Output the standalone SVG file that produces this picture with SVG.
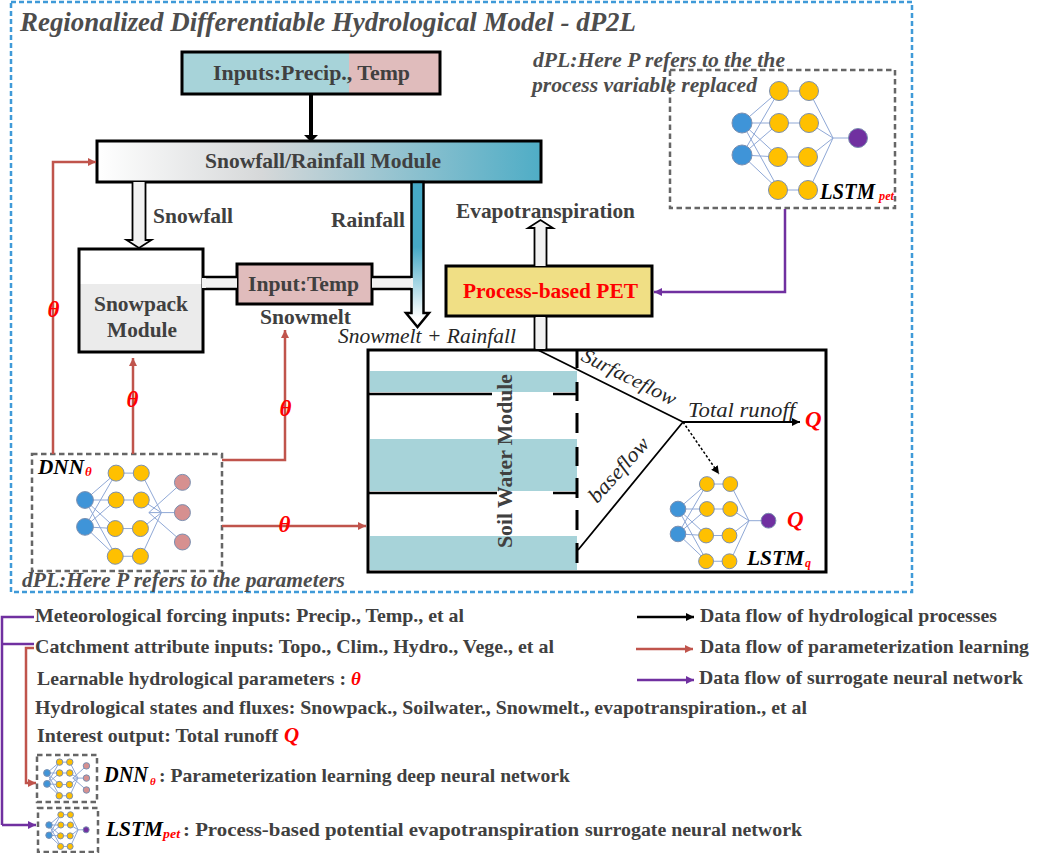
<svg xmlns="http://www.w3.org/2000/svg" xmlns:xlink="http://www.w3.org/1999/xlink" width="1037" height="853" viewBox="0 0 1037 853">
<style>
text{font-family:"Liberation Serif","Times New Roman",serif}
.b{font-weight:700;fill:#404040}
.bi{font-weight:700;font-style:italic;fill:#4d4d4d}
.i{font-style:italic;fill:#262626}
.k{font-weight:700;font-style:italic;fill:#000}
.r{font-weight:700;font-style:italic;fill:#f00}
.box{stroke:#000;stroke-width:3;fill:none}
.dash{fill:none;stroke:#666;stroke-width:2.500;stroke-dasharray:5.500 3.500}
.red{fill:none;stroke:#c0544c;stroke-width:2.500}
.pur{fill:none;stroke:#7030a0;stroke-width:2.500}
.blk{fill:none;stroke:#000;stroke-width:2.500}
.fat{fill:#f2f2f2;stroke:#000;stroke-width:1.800}
.e{stroke:#8fa8d6;stroke-width:1;vector-effect:non-scaling-stroke;fill:none}
.n{stroke:#7b8fb0;stroke-width:1;vector-effect:non-scaling-stroke}
.bl{fill:#3f94d8}.ye{fill:#ffc000}.pu{fill:#7030a0}.pk{fill:#d69090}
</style>
<defs>
<linearGradient id="gM" x1="0" y1="0" x2="1" y2="0"><stop offset="0" stop-color="#fff"/><stop offset=".37" stop-color="#d6d8d9"/><stop offset="1" stop-color="#4fadc6"/></linearGradient>
<linearGradient id="gR" gradientUnits="userSpaceOnUse" x1="0" y1="247" x2="0" y2="318"><stop offset="0" stop-color="#46a9c6"/><stop offset="1" stop-color="#fff"/></linearGradient>
<marker id="mR" markerUnits="userSpaceOnUse" markerWidth="9" markerHeight="9" refX="8" refY="4.500" orient="auto"><path d="M0 .5L8 4.500L0 8.500z" fill="#c0544c"/></marker>
<marker id="mP" markerUnits="userSpaceOnUse" markerWidth="9" markerHeight="9" refX="8" refY="4.500" orient="auto"><path d="M0 .5L8 4.500L0 8.500z" fill="#7030a0"/></marker>
<marker id="mK" markerUnits="userSpaceOnUse" markerWidth="9" markerHeight="9" refX="8" refY="4.500" orient="auto"><path d="M0 .5L8 4.500L0 8.500z" fill="#000"/></marker>
<g id="net">
<path class="e" d="M0 0L37 -32M0 0L37 0M0 0L37 34M0 0L37 67M0 32L37 -32M0 32L37 0M0 32L37 34M0 32L37 67M37 -32H67M37 0H67M37 34H67M37 67H67M67 -32L91 15M67 0L91 15M67 34L91 15M67 67L91 15"/>
<circle class="n bl" cx="0" cy="0" r="10"/><circle class="n bl" cx="0" cy="32" r="10"/>
<circle class="n ye" cx="37" cy="-32" r="9.500"/><circle class="n ye" cx="37" cy="0" r="9.500"/><circle class="n ye" cx="36" cy="34" r="9.500"/><circle class="n ye" cx="36" cy="67" r="9.500"/>
<circle class="n ye" cx="67" cy="-32" r="9.500"/><circle class="n ye" cx="67" cy="0" r="9.500"/><circle class="n ye" cx="66" cy="34" r="9.500"/><circle class="n ye" cx="66" cy="67" r="9.500"/>
</g>
<g id="outP"><path class="e" d="M91 15H116"/><circle class="n pu" cx="116" cy="15" r="9.500"/></g>
<g id="outD"><path class="e" d="M76 15L116 -21M76 15H116M76 15L116 50"/><circle class="n pk" cx="116" cy="-21" r="9.500"/><circle class="n pk" cx="116" cy="15" r="9.500"/><circle class="n pk" cx="116" cy="50" r="9.500"/></g>
</defs>
<rect width="1037" height="853" fill="#fff"/>
<rect id="frame" x="11" y="2" width="901" height="590" fill="none" stroke="#3f9ad8" stroke-width="2.500" stroke-dasharray="5 3"/>
<text id="title" class="bi" x="20" y="31" font-size="27.500" textLength="616" lengthAdjust="spacingAndGlyphs">Regionalized Differentiable Hydrological Model - dP2L</text>

<g id="inputs">
<rect x="182" y="52" width="167" height="42" fill="#a7d3d9"/><rect x="349" y="52" width="91" height="42" fill="#e0bcbc"/>
<rect class="box" x="182" y="52" width="258" height="42"/>
<text class="b" x="213" y="80" font-size="22" textLength="197" lengthAdjust="spacingAndGlyphs">Inputs:Precip., Temp</text>
</g>
<g id="snowfall-rainfall-module">
<rect x="97" y="141" width="444" height="41" fill="url(#gM)"/>
<rect class="box" x="97" y="141" width="444" height="41"/>
<text class="b" x="205" y="168" font-size="22" textLength="236" lengthAdjust="spacingAndGlyphs">Snowfall/Rainfall Module</text>
</g>
<g id="snowpack-module">
<rect x="79" y="284" width="124" height="68" fill="#ebebeb"/>
<rect class="box" x="79" y="249" width="124" height="103"/>
<text class="b" x="94" y="311" font-size="22" textLength="94" lengthAdjust="spacingAndGlyphs">Snowpack</text>
<text class="b" x="107" y="337" font-size="22" textLength="70" lengthAdjust="spacingAndGlyphs">Module</text>
</g>
<g id="input-temp">
<rect x="237" y="264" width="135" height="40" fill="#e0bcbc"/>
<rect class="box" x="237" y="264" width="135" height="40"/>
<text class="b" x="248" y="291" font-size="22" textLength="111" lengthAdjust="spacingAndGlyphs">Input:Temp</text>
</g>
<g id="process-based-pet">
<rect x="446" y="266" width="206" height="50" fill="#f0df85"/>
<rect class="box" x="446" y="266" width="206" height="50"/>
<text x="463" y="298" font-size="22" font-weight="700" fill="#f00" textLength="175" lengthAdjust="spacingAndGlyphs">Process-based PET</text>
</g>
<g id="soil-water-module">
<path fill="#a7d3d9" d="M370 371H577V392H370zM370 439H577V491H370zM370 536H577V570H370z"/>
<rect class="box" x="368" y="350" width="458" height="222"/>
<path fill="none" stroke="#000" stroke-width="2.500" d="M368 394H492M553 394H577M368 493H497M553 493H577"/>
<path fill="none" stroke="#000" stroke-width="3" d="M577 350V368M577 382V401M577 413V433M577 447V466M577 478V498M577 510V530M577 543V563"/>
<text class="b" transform="translate(512 548) rotate(-90)" font-size="22" textLength="174" lengthAdjust="spacingAndGlyphs">Soil Water Module</text>
<path fill="none" stroke="#000" stroke-width="1.800" d="M538 350L683 422M578 550L683 422"/>
<text class="i" transform="translate(580 360) rotate(26.400)" font-size="20" textLength="103" lengthAdjust="spacingAndGlyphs">Surfaceflow</text>
<text class="i" transform="translate(597 504) rotate(-48)" font-size="21" textLength="80" lengthAdjust="spacingAndGlyphs">baseflow</text>
<text class="i" x="688" y="417" font-size="21" textLength="107" lengthAdjust="spacingAndGlyphs">Total runoff</text>
<text class="r" x="805" y="427" font-size="23">Q</text>
</g>
<g id="dnn">
<rect class="dash" x="32" y="454" width="190" height="117"/>
<use xlink:href="#net" href="#net" transform="translate(85 500) scale(.84)"/>
<use xlink:href="#outD" href="#outD" transform="translate(85 500) scale(.84)"/>
<text class="k" x="38" y="474" font-size="21" textLength="46" lengthAdjust="spacingAndGlyphs">DNN</text><text class="r" x="85" y="476" font-size="13">θ</text>
</g>
<g id="lstm-pet">
<rect class="dash" x="670" y="70" width="225" height="138"/>
<use xlink:href="#net" href="#net" transform="translate(742 123)"/>
<use xlink:href="#outP" href="#outP" transform="translate(742 123)"/>
<text class="k" x="820" y="199" font-size="23" textLength="55" lengthAdjust="spacingAndGlyphs">LSTM</text><text class="r" x="879" y="200" font-size="13" textLength="15" lengthAdjust="spacingAndGlyphs">pet</text>
</g>
<g id="lstm-q">
<use xlink:href="#net" href="#net" transform="translate(678 509) scale(.78)"/>
<use xlink:href="#outP" href="#outP" transform="translate(678 509) scale(.78)"/>
<text class="k" x="747" y="565" font-size="21" textLength="57" lengthAdjust="spacingAndGlyphs">LSTM</text><text class="r" x="805" y="567" font-size="12">q</text>
<text class="r" x="787" y="527" font-size="23">Q</text>
</g>

<g id="connectors">
<path d="M311 94V140" stroke="#000" stroke-width="4" fill="none"/><path d="M304 135H318L311 142z" fill="#000"/>
<path class="fat" d="M132.500 182V240H126.500L139 248L151.500 240H145.500V182"/>
<rect x="203" y="278" width="34" height="10" fill="#f2f2f2"/>
<path d="M203 277H237M203 289H237" stroke="#000" stroke-width="2.500" fill="none"/>
<rect x="202" y="278" width="4" height="10" fill="#f2f2f2"/>
<path d="M411.500 182V313H406L417.500 327L429 313H423.500V182z" fill="url(#gR)" stroke="#000" stroke-width="2.500"/>
<rect x="372" y="278" width="41" height="10" fill="#f2f2f2"/>
<path d="M372 277H411M372 289H411" stroke="#000" stroke-width="2.500" fill="none"/>
<path class="fat" d="M534.500 266V228H528L540.500 220L553 228H546.500V266"/>
<rect x="535.500" y="317" width="10" height="32" fill="#f2f2f2"/>
<path class="fat" fill="none" d="M534.500 317V349M546.500 317V349"/>
<path class="red" marker-end="url(#mR)" d="M53 454V162H96"/>
<path class="red" marker-end="url(#mR)" d="M133 454V358"/>
<path class="red" marker-end="url(#mR)" d="M222 460H285V330"/>
<path class="red" marker-end="url(#mR)" d="M222 526H366"/>
<path class="pur" marker-end="url(#mP)" d="M785 209V292H654"/>
<path fill="none" stroke="#000" stroke-width="1.800" marker-end="url(#mK)" d="M683 422H800"/>
<path fill="none" stroke="#000" stroke-width="1.500" stroke-dasharray="2.500 2" marker-end="url(#mK)" d="M683 422L719 474"/>
<path class="pur" d="M34 617H2V825"/><path class="pur" d="M2 644H34"/>
<path class="pur" marker-end="url(#mP)" d="M2 825H36"/>
<path class="red" marker-end="url(#mR)" d="M34 648H26V783H36"/>
<path class="blk" marker-end="url(#mK)" d="M637 617H694"/>
<path class="red" marker-end="url(#mR)" d="M636 649H693"/>
<path class="pur" marker-end="url(#mP)" d="M637 680H694"/>
</g>

<g id="labels">
<text class="b" x="153" y="223" font-size="21" textLength="80" lengthAdjust="spacingAndGlyphs">Snowfall</text>
<text class="b" x="331" y="227" font-size="21" textLength="74" lengthAdjust="spacingAndGlyphs">Rainfall</text>
<text class="b" x="456" y="218" font-size="21" textLength="179" lengthAdjust="spacingAndGlyphs">Evapotranspiration</text>
<text class="b" x="260" y="324" font-size="21" textLength="91" lengthAdjust="spacingAndGlyphs">Snowmelt</text>
<text class="i" x="338" y="343" font-size="21" textLength="178" lengthAdjust="spacingAndGlyphs">Snowmelt + Rainfall</text>
<text class="bi" x="533" y="67" font-size="20.500" textLength="252" lengthAdjust="spacingAndGlyphs">dPL:Here P refers to the the</text>
<text class="bi" x="532" y="92" font-size="20.500" textLength="225" lengthAdjust="spacingAndGlyphs">process variable replaced</text>
<text class="bi" x="22" y="587" font-size="20.500" textLength="323" lengthAdjust="spacingAndGlyphs">dPL:Here P refers to the parameters</text>
<text class="r" x="47.500" y="317" font-size="23">θ</text>
<text class="r" x="126.500" y="407" font-size="23">θ</text>
<text class="r" x="279.500" y="416" font-size="23">θ</text>
<text class="r" x="278.500" y="532" font-size="23">θ</text>
</g>

<g id="legend">
<text class="b" x="35" y="622" font-size="19" textLength="429" lengthAdjust="spacingAndGlyphs">Meteorological forcing inputs: Precip., Temp., et al</text>
<text class="b" x="35" y="653" font-size="19" textLength="519" lengthAdjust="spacingAndGlyphs">Catchment attribute inputs: Topo., Clim., Hydro., Vege., et al</text>
<text class="b" x="37" y="685" font-size="19" textLength="309" lengthAdjust="spacingAndGlyphs">Learnable hydrological parameters :</text>
<text class="r" x="351" y="685" font-size="19">θ</text>
<text class="b" x="35" y="714" font-size="19" textLength="772" lengthAdjust="spacingAndGlyphs">Hydrological states and fluxes: Snowpack., Soilwater., Snowmelt., evapotranspiration., et al</text>
<text class="b" x="37" y="742" font-size="19" textLength="241" lengthAdjust="spacingAndGlyphs">Interest output: Total runoff</text>
<text class="r" x="284" y="742" font-size="21">Q</text>
<g id="legend-dnn">
<rect class="dash" x="37" y="755" width="60" height="47"/>
<use xlink:href="#net" href="#net" transform="translate(47 773) scale(.34)"/>
<use xlink:href="#outD" href="#outD" transform="translate(47 773) scale(.34)"/>
</g>
<text class="k" x="104" y="782" font-size="23" textLength="44" lengthAdjust="spacingAndGlyphs">DNN</text><text class="r" x="150" y="785" font-size="11">θ</text>
<text class="b" x="159" y="782" font-size="19" textLength="411" lengthAdjust="spacingAndGlyphs">: Parameterization learning deep neural network</text>
<g id="legend-lstm">
<rect class="dash" x="38" y="808" width="60" height="44"/>
<use xlink:href="#net" href="#net" transform="translate(49 825) scale(.32)"/>
<use xlink:href="#outP" href="#outP" transform="translate(49 825) scale(.32)"/>
</g>
<text class="k" x="106" y="836" font-size="22" textLength="57" lengthAdjust="spacingAndGlyphs">LSTM</text><text class="r" x="163" y="838" font-size="13" textLength="17" lengthAdjust="spacingAndGlyphs">pet</text>
<text class="b" x="183" y="836" font-size="19.500" textLength="396" lengthAdjust="spacingAndGlyphs">: Process-based potential evapotranspiration</text>
<text class="b" x="585" y="836" font-size="18" textLength="217" lengthAdjust="spacingAndGlyphs">surrogate neural network</text>
<text class="b" x="700" y="622" font-size="19" textLength="297" lengthAdjust="spacingAndGlyphs">Data flow of hydrological processes</text>
<text class="b" x="700" y="653" font-size="19" textLength="329" lengthAdjust="spacingAndGlyphs">Data flow of parameterization learning</text>
<text class="b" x="699" y="684" font-size="19" textLength="324" lengthAdjust="spacingAndGlyphs">Data flow of surrogate neural network</text>
</g>
</svg>
